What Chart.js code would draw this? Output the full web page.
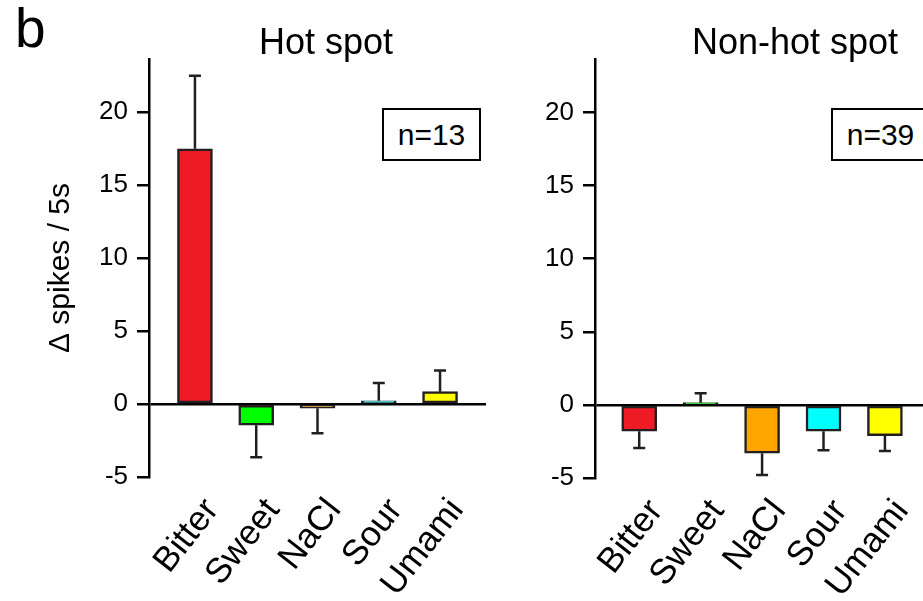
<!DOCTYPE html>
<html><head><meta charset="utf-8">
<script src="https://cdn.jsdelivr.net/npm/chart.js@4.4.1/dist/chart.umd.min.js"></script>
<style>
html,body{margin:0;padding:0;background:#fff;overflow:hidden;width:923px;height:601px;position:relative;font-family:"Liberation Sans",Arial,sans-serif;}
canvas{position:absolute;top:0;}
#c1{left:0;}
#c2{left:500px;}
.t{position:absolute;white-space:nowrap;color:#000;line-height:1;}
.box{position:absolute;border:2px solid #000;box-sizing:border-box;display:flex;align-items:center;justify-content:center;font-size:30px;line-height:1;color:#000;background:#fff;}
</style></head>
<body>
<canvas id="c1" width="500" height="601"></canvas>
<canvas id="c2" width="460" height="601"></canvas>
<div class="t" style="left:15px;top:1px;font-size:55px;">b</div>
<div class="t" style="left:176px;top:24px;width:300px;text-align:center;font-size:36px;">Hot spot</div>
<div class="t" style="left:645px;top:24px;width:300px;text-align:center;font-size:36px;">Non-hot spot</div>
<div class="box" style="left:382px;top:108px;width:99px;height:53px;">n=13</div>
<div class="box" style="left:831px;top:108px;width:99px;height:53px;">n=39</div>
<script>
const categories = ['Bitter', 'Sweet', 'NaCl', 'Sour', 'Umami'];
const barColors = ['#ed1c24', '#00ff00', '#ffa500', '#00ffff', '#ffff00'];
const hotValues = [17.5, -1.45, -0.28, 0.22, 0.85];
const hotErrors = [5.0, 2.2, 1.72, 1.23, 1.45];
const nonHotValues = [-1.8, 0.15, -3.3, -1.8, -2.1];
const nonHotErrors = [1.15, 0.65, 1.5, 1.3, 1.05];
const yTicks = [-5, 0, 5, 10, 15, 20];
const yMin = -5, yMax = 23.65;
const yTitle = 'Δ spikes / 5s';

const FAMILY = "'Liberation Sans', Arial, Helvetica, sans-serif";
Chart.defaults.font.family = FAMILY;
Chart.defaults.color = '#000';

const errorBars = {
  id: 'errorBars',
  afterDatasetsDraw(chart, args, opts) {
    const {ctx, scales: {x, y}} = chart;
    const ds = chart.data.datasets[0];
    const errs = opts.errors || [];
    ctx.save();
    ctx.strokeStyle = '#231f20';
    ctx.lineWidth = 2.5;
    ds.data.forEach((d, i) => {
      const dir = d.y >= 0 ? 1 : -1;
      const px = x.getPixelForValue(d.x);
      const y0 = y.getPixelForValue(d.y);
      const y1 = y.getPixelForValue(d.y + dir * errs[i]);
      ctx.beginPath();
      ctx.moveTo(px, y0); ctx.lineTo(px, y1);
      ctx.moveTo(px - 6, y1); ctx.lineTo(px + 6, y1);
      ctx.stroke();
    });
    ctx.restore();
  }
};

function makeChart(id, values, errors, opt) {
  return new Chart(document.getElementById(id), {
    type: 'bar',
    data: {
      datasets: [{
        data: values.map((v, i) => ({x: i, y: v})),
        backgroundColor: barColors,
        borderColor: '#231f20',
        borderWidth: 2.5,
        borderSkipped: false,
        barThickness: 35
      }]
    },
    options: {
      responsive: false,
      animation: false,
      events: [],
      layout: {padding: {top: 59, right: opt.rightPad, left: 0, bottom: 0}},
      plugins: {
        legend: {display: false},
        tooltip: {enabled: false},
        title: {display: false},
        errorBars: {errors: errors}
      },
      scales: {
        x: {
          type: 'linear',
          offset: false,
          min: opt.xMin, max: 4.75,
          afterBuildTicks: s => { s.ticks = categories.map((c, i) => ({value: i})); },
          afterFit: s => { s.height = 601 - opt.bottomY; },
          grid: {display: false, drawTicks: false, offset: false},
          border: {display: false},
          ticks: {
            autoSkip: false, maxRotation: 52, minRotation: 52,
            padding: 14, labelOffset: 17,
            color: '#000',
            font: {size: 35, family: FAMILY},
            callback: v => categories[v]
          }
        },
        y: {
          min: yMin, max: yMax,
          afterBuildTicks: s => { s.ticks = yTicks.map(v => ({value: v})); },
          afterFit: s => { s.width = opt.yWidth; },
          border: {display: true, color: '#000', width: 2.5},
          grid: {
            drawOnChartArea: true, drawTicks: true, tickLength: 12, tickWidth: 2.5, tickColor: '#000',
            color: c => (c.tick && c.tick.value === 0) ? '#000' : 'rgba(0,0,0,0)',
            lineWidth: 2.5
          },
          ticks: {padding: 9, color: '#000', font: {size: 26, family: FAMILY}},
          title: {
            display: opt.showTitle, text: yTitle, color: '#000',
            font: {size: 30, family: FAMILY}, padding: {top: 43, bottom: 0}
          }
        }
      }
    },
    plugins: [errorBars]
  });
}

makeChart('c1', hotValues, hotErrors, {yWidth: 149, rightPad: 14, bottomY: 477, xMin: -0.75, showTitle: true});
makeChart('c2', nonHotValues, nonHotErrors, {yWidth: 95, rightPad: 29, bottomY: 478, xMin: -0.72, showTitle: false});
</script>
</body></html>
